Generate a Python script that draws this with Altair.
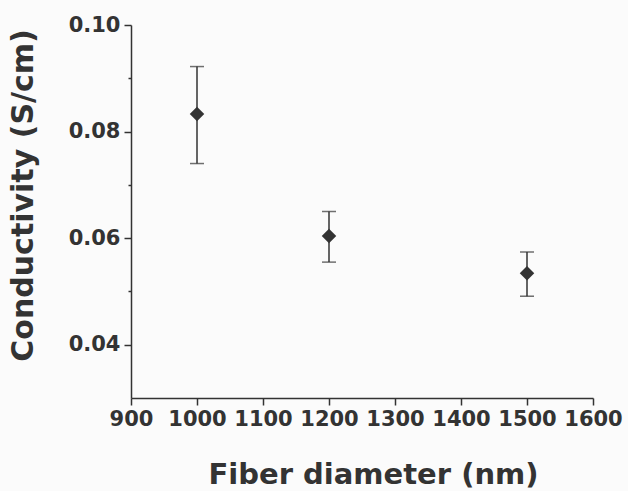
import altair as alt
import pandas as pd

diameter = [1000, 1200, 1500]
conductivity = [0.0833, 0.0604, 0.0534]
err_low = [0.0740, 0.0555, 0.0491]
err_high = [0.0922, 0.0650, 0.0574]

x_ticks = [900, 950, 1000, 1050, 1100, 1150, 1200, 1250, 1300, 1350, 1400, 1450, 1500, 1550, 1600]
y_ticks = [0.04, 0.05, 0.06, 0.07, 0.08, 0.09, 0.10]

df = pd.DataFrame({"d": diameter, "c": conductivity, "lo": err_low, "hi": err_high})

FONT = "DejaVu Sans"
INK = "#333333"

xs = alt.Scale(domain=[900, 1600], nice=False, zero=False)
ys = alt.Scale(domain=[0.03, 0.10], nice=False, zero=False)

x_major_test = "datum.value % 100 === 0"
y_major_test = "round(datum.value * 100) % 2 === 0"

x_axis = alt.Axis(
    orient="bottom",
    values=x_ticks, format="d", title="Fiber diameter (nm)",
    labelExpr=f"{x_major_test} ? datum.label : ''",
    grid=False, domainColor=INK, domainWidth=1.5, tickColor=INK, tickWidth=1.5,
    tickSize={"condition": {"test": x_major_test, "value": 7}, "value": 3},
    labelFont=FONT, labelFontSize=21, labelFontWeight="bold",
    labelColor=INK, labelPadding=3, labelFlush=False, labelOverlap=False,
    titleFont=FONT, titleFontSize=29, titleFontWeight="bold", titleColor=INK,
    titleX=242, titleY=85, titleBaseline="alphabetic", titleAlign="center",
)
y_axis = alt.Axis(
    orient="left",
    values=y_ticks, format=".2f", title="Conductivity (S/cm)",
    labelExpr=f"{y_major_test} ? datum.label : ''",
    grid=False, domainColor=INK, domainWidth=1.5, tickColor=INK, tickWidth=1.5,
    tickSize={"condition": {"test": y_major_test, "value": 7}, "value": 3},
    labelFont=FONT, labelFontSize=21, labelFontWeight="bold",
    labelColor=INK, labelPadding=4, labelFlush=False, labelOverlap=False,
    titleFont=FONT, titleFontSize=30, titleFontWeight="bold", titleColor=INK,
    titleX=-108, titleY=170, titleAngle=-90, titleBaseline="middle", titleAlign="center",
)

base = alt.Chart(df)

bars = base.mark_errorbar(ticks=alt.MarkConfig(size=14, color=INK, strokeWidth=1.5),
                          color=INK, thickness=1.5).encode(
    x=alt.X("d:Q", scale=xs, axis=x_axis),
    y=alt.Y("lo:Q", scale=ys, axis=y_axis),
    y2="hi:Q",
)

pts = base.mark_point(shape="diamond", filled=True, size=210, color=INK, opacity=1).encode(
    x=alt.X("d:Q", scale=xs),
    y=alt.Y("c:Q", scale=ys),
)

chart = alt.layer(bars, pts).properties(
    width=462, height=373,
    autosize=alt.AutoSizeParams(type="none"),
    padding={"left": 131, "top": 25, "right": 35, "bottom": 93},
    background="#fbfbfb",
).configure_view(stroke=None)

chart.save("out.html", embed_options={"renderer": "svg", "actions": False})
